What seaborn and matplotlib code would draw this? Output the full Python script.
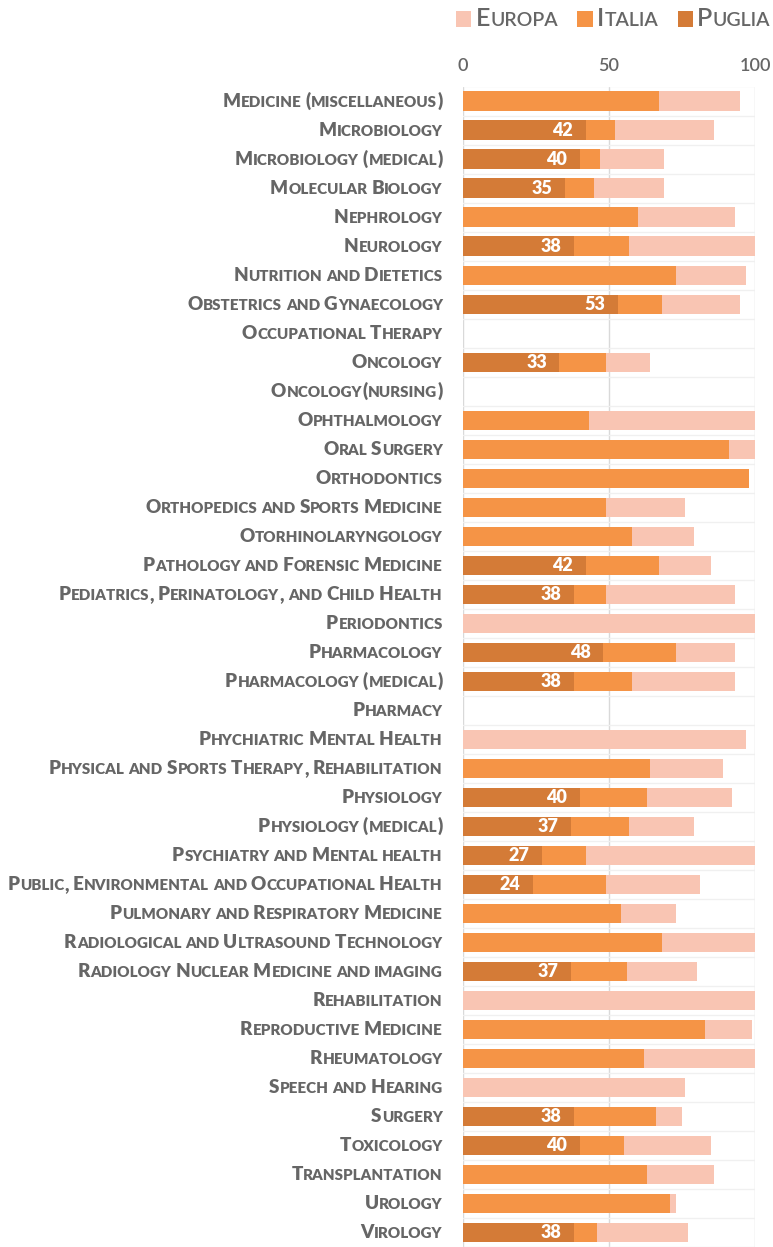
import numpy as np
import pandas as pd
import seaborn as sns
import matplotlib
matplotlib.use("Agg")
import matplotlib.pyplot as plt
from matplotlib.offsetbox import TextArea, HPacker, AnnotationBbox, DrawingArea
from matplotlib.patches import Rectangle

# categories and values (0 = no bar)
categories = [
    "Medicine (miscellaneous)", "Microbiology", "Microbiology (medical)",
    "Molecular Biology", "Nephrology", "Neurology", "Nutrition and Dietetics",
    "Obstetrics and Gynaecology", "Occupational Therapy", "Oncology",
    "Oncology(nursing)", "Ophthalmology", "Oral Surgery", "Orthodontics",
    "Orthopedics and Sports Medicine", "Otorhinolaryngology",
    "Pathology and Forensic Medicine",
    "Pediatrics, Perinatology, and Child Health", "Periodontics",
    "Pharmacology", "Pharmacology (medical)", "Pharmacy",
    "Phychiatric Mental Health", "Physical and Sports Therapy, Rehabilitation",
    "Physiology", "Physiology (medical)", "Psychiatry and Mental health",
    "Public, Environmental and Occupational Health",
    "Pulmonary and Respiratory Medicine",
    "Radiological and Ultrasound Technology",
    "Radiology Nuclear Medicine and imaging", "Rehabilitation",
    "Reproductive Medicine", "Rheumatology", "Speech and Hearing", "Surgery",
    "Toxicology", "Transplantation", "Urology", "Virology",
]
europa = [95, 86, 69, 69, 93, 100, 97, 95, 0, 64,
          0, 100, 100, 0, 76, 79, 85, 93, 100, 93,
          93, 0, 97, 89, 92, 79, 100, 81, 73, 100,
          80, 100, 99, 100, 76, 75, 85, 86, 73, 77]
italia = [67, 52, 47, 45, 60, 57, 73, 68, 0, 49,
          0, 43, 91, 98, 49, 58, 67, 49, 0, 73,
          58, 0, 0, 64, 63, 57, 42, 49, 54, 68,
          56, 0, 83, 62, 0, 66, 55, 63, 71, 46]
puglia = [0, 42, 40, 35, 0, 38, 0, 53, 0, 33,
          0, 0, 0, 0, 0, 0, 42, 38, 0, 48,
          38, 0, 0, 0, 40, 37, 27, 24, 0, 0,
          37, 0, 0, 0, 0, 38, 40, 0, 0, 38]

series_names = ["Europa", "Italia", "Puglia"]
colors = ["#F9C5B3", "#F59446", "#D47B37"]
gray = "#666666"
font = "Lato"


def smallcaps(label, size, color, ratio=0.8, weight="heavy"):
    """build a small caps text box out of pieces"""
    words = []
    for word in label.split(" "):
        runs = []
        for ch in word:
            small = ch.islower()
            if runs and runs[-1][1] == small:
                runs[-1][0] += ch
            else:
                runs.append([ch, small])
        pieces = []
        for txt, small in runs:
            pieces.append(TextArea(txt.upper(), textprops=dict(
                fontsize=size * ratio if small else size, fontweight=weight,
                color=color, family=font)))
        words.append(HPacker(children=pieces, align="baseline", pad=0, sep=0.3))
    return HPacker(children=words, align="baseline", pad=0, sep=size * 0.2)


sns.set_theme(style="white")
plt.rcParams["font.family"] = [font, "DejaVu Sans"]

fig = plt.figure(figsize=(7.73, 12.47), dpi=100)
ax = fig.add_axes([463 / 773, 0, 292 / 773, 1 - 86.5 / 1247])

df = pd.DataFrame({"category": categories, "Europa": europa,
                   "Italia": italia, "Puglia": puglia})

for name, col in zip(series_names, colors):
    sns.barplot(data=df, x=name, y="category", orient="h", color=col,
                saturation=1, width=0.66, errorbar=None, linewidth=0, ax=ax)

# white labels inside the Puglia bars
cont = ax.containers[-1]
labels = [f"{v:g}" if v else "" for v in puglia]
anns = ax.bar_label(cont, labels=labels, padding=-9, color="white",
                    fontsize=13, fontweight="heavy", family=font)
for a in anns:
    a.set_ha("right")

ax.set_xlim(0, 100)
ax.set_ylim(39 + 12 / 29.08, -0.5)
ax.xaxis.tick_top()
ax.set_xticks([0, 50, 100])
ax.tick_params(axis="x", length=0, pad=9, labelsize=13, labelcolor=gray)
for t in ax.get_xticklabels():
    t.set_fontweight("semibold")
ax.set_xlabel("")
ax.set_ylabel("")
ax.set_yticks(range(len(categories)))
ax.set_yticklabels([])
ax.tick_params(axis="y", length=0)
ax.set_yticks(np.arange(-0.5, len(categories), 1), minor=True)
ax.grid(axis="x", which="major", color="#D9D9D9", linewidth=1)
ax.grid(axis="y", which="minor", color="#F0F0F0", linewidth=1)
ax.set_axisbelow(True)
sns.despine(ax=ax, left=True, bottom=True, top=True, right=True)

# category labels in small caps
for i, cat in enumerate(categories):
    box = smallcaps(cat, 13.6, gray)
    ab = AnnotationBbox(box, (0, i), xycoords=ax.get_yaxis_transform(),
                        xybox=(-14.5, 0), boxcoords="offset points",
                        box_alignment=(1, 0.5), frameon=False, pad=0,
                        annotation_clip=False)
    ax.add_artist(ab)

# legend at top
entries = []
for name, col in zip(series_names, colors):
    da = DrawingArea(11, 11, 0, 0)
    da.add_artist(Rectangle((0, 0), 11, 11, facecolor=col, edgecolor="none"))
    txt = smallcaps(name, 18, gray, ratio=0.78, weight="semibold")
    entries.append(HPacker(children=[da, txt], align="center", pad=0, sep=3))
legend_box = HPacker(children=entries, align="center", pad=0, sep=14)
fig.add_artist(AnnotationBbox(legend_box, (456 / 773, 1 - 19 / 1247),
                              xycoords="figure fraction", box_alignment=(0, 0.5),
                              frameon=False, pad=0))

fig.savefig("out.png", dpi=100)
